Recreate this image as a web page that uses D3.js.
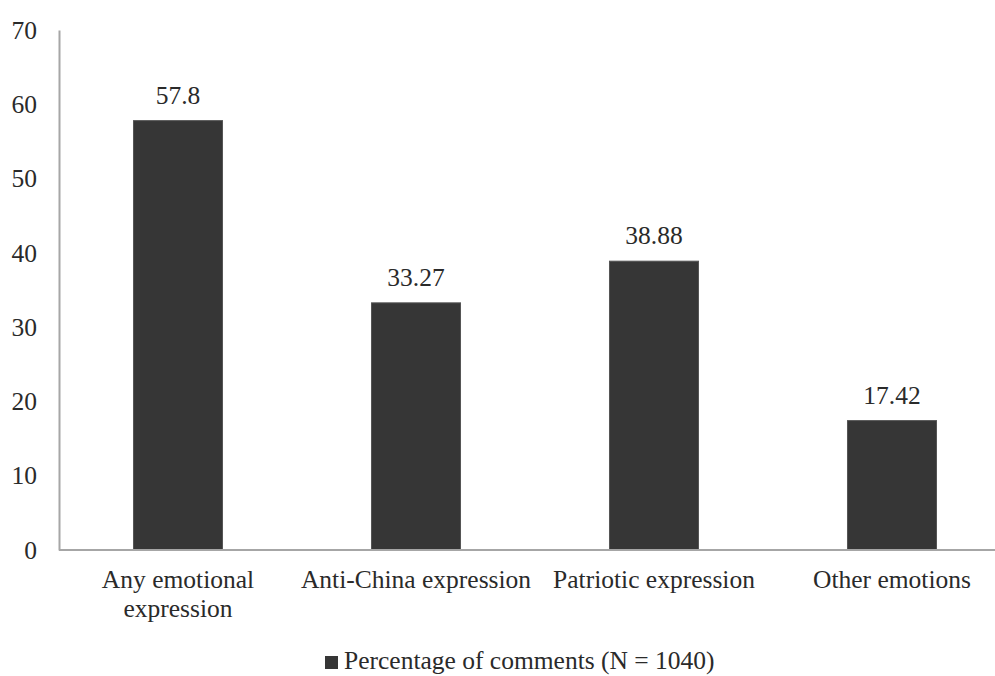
<!DOCTYPE html>
<html><head><meta charset="utf-8">
<script src="https://cdn.jsdelivr.net/npm/d3@7"></script>
<style>body{margin:0;background:#fff}</style>
</head><body>
<svg id="c" width="995" height="676"></svg>
<script>
const categories = [["Any emotional","expression"],["Anti-China expression"],["Patriotic expression"],["Other emotions"]];
const values = [57.8, 33.27, 38.88, 17.42];
const valueLabels = ["57.8","33.27","38.88","17.42"];
const yTicks = [0,10,20,30,40,50,60,70];
const legendLabel = "Percentage of comments (N = 1040)";

const svg = d3.select("#c");
const font = "'Liberation Serif','Times New Roman',serif";
const fs = 25.5;
const txt = "#2a2a2a";
const x = d3.scaleBand().domain(d3.range(categories.length)).range([59,1011]).paddingInner(0.626).paddingOuter(0.313);
const y = d3.scaleLinear().domain([0,70]).range([550,30]);

const yAxis = svg.append("g").attr("transform","translate(59,0)").call(d3.axisLeft(y).tickValues(yTicks).tickSize(0).tickPadding(22));
yAxis.select(".domain").attr("stroke","#a6a6a6").attr("stroke-width",2);
yAxis.selectAll("text").attr("font-family",font).attr("font-size",fs).attr("fill",txt);

svg.append("g").selectAll("rect").data(values).join("rect")
  .attr("x",(d,i)=>x(i)).attr("width",x.bandwidth())
  .attr("y",d=>y(d)).attr("height",d=>y(0)-y(d))
  .attr("fill","#363636").attr("stroke","#555").attr("stroke-width",1);

svg.append("line").attr("x1",59).attr("x2",1011).attr("y1",y(0)).attr("y2",y(0)).attr("stroke","#a6a6a6").attr("stroke-width",2);

svg.append("g").selectAll("text").data(values).join("text")
  .attr("x",(d,i)=>x(i)+x.bandwidth()/2).attr("y",d=>y(d)-17)
  .attr("text-anchor","middle").attr("font-family",font).attr("font-size",fs).attr("fill",txt)
  .text((d,i)=>valueLabels[i]);

const cat = svg.append("g").selectAll("text").data(categories).join("text")
  .attr("text-anchor","middle").attr("font-family",font).attr("font-size",fs).attr("fill",txt)
  .attr("x",(d,i)=>x(i)+x.bandwidth()/2).attr("y",588);
cat.selectAll("tspan").data(d=>d).join("tspan")
  .attr("x",function(){return this.parentNode.getAttribute("x");})
  .attr("dy",(d,j)=>j===0?0:29).text(d=>d);

const lg = svg.append("g");
lg.append("rect").attr("x",325).attr("y",656).attr("width",13).attr("height",13).attr("fill","#363636");
lg.append("text").attr("x",344).attr("y",669).attr("font-family",font).attr("font-size",fs).attr("fill",txt).text(legendLabel);
</script>
</body></html>
